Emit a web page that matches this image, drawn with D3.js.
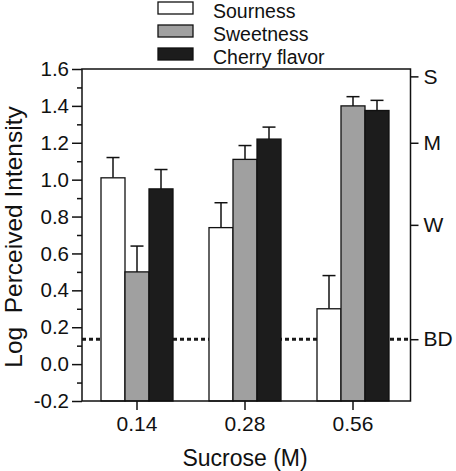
<!DOCTYPE html>
<html>
<head>
<meta charset="utf-8">
<script src="https://cdn.jsdelivr.net/npm/d3@7"></script>
<style>
  html, body { margin: 0; padding: 0; background: #fff; }
  svg { display: block; font-family: Arial, "Liberation Sans", Helvetica, sans-serif; }
</style>
</head>
<body>
<svg id="chart" width="456" height="471"></svg>
<script>
// ---- data ----
const categories = ["0.14", "0.28", "0.56"];
const seriesNames = ["Sourness", "Sweetness", "Cherry flavor"];
const sourness = [1.01, 0.74, 0.30];
const sweetness = [0.50, 1.11, 1.40];
const cherry = [0.95, 1.22, 1.375];
const sournessErr = [0.11, 0.135, 0.18];
const sweetnessErr = [0.14, 0.075, 0.05];
const cherryErr = [0.105, 0.065, 0.055];
const yTicks = [-0.2, 0.0, 0.2, 0.4, 0.6, 0.8, 1.0, 1.2, 1.4, 1.6];
const yMinorTicks = [-0.1, 0.1, 0.3, 0.5, 0.7, 0.9, 1.1, 1.3, 1.5];
const rightLabels = ["S", "M", "W", "BD"];
const rightValues = [1.56, 1.2, 0.755, 0.135];
const bdLevel = 0.135;
const colors = ["#ffffff", "#a0a0a0", "#1c1c1c"];

const values = [sourness, sweetness, cherry];
const errs = [sournessErr, sweetnessErr, cherryErr];

const svg = d3.select("#chart");
const pLeft = 82, pRight = 410.5, pTop = 69, pBottom = 401;

const y = d3.scaleLinear().domain([-0.2, 1.6]).range([pBottom, pTop]);
const x = d3.scaleBand().domain(categories).range([83, 407]).paddingInner(0).paddingOuter(0);
const xs = d3.scaleBand().domain(d3.range(3)).range([-36, 36]);

// dashed BD line (behind bars)
svg.append("line")
  .attr("x1", pLeft).attr("x2", pRight)
  .attr("y1", y(bdLevel)).attr("y2", y(bdLevel))
  .attr("stroke", "#1a1a1a").attr("stroke-width", 3)
  .attr("stroke-dasharray", "4,3");

// bars + error bars
const data = [];
categories.forEach((c, ci) => {
  values.forEach((s, si) => {
    data.push({cat: c, si, v: s[ci], e: errs[si][ci]});
  });
});

const g = svg.append("g");
data.forEach(d => {
  const cx = x(d.cat) + x.bandwidth() / 2;
  const bx = cx + xs(d.si);
  const bw = xs.bandwidth();
  const mid = bx + bw / 2;
  g.append("line")
    .attr("x1", mid).attr("x2", mid)
    .attr("y1", y(d.v)).attr("y2", y(d.v + d.e))
    .attr("stroke", "#111").attr("stroke-width", 1.5);
  g.append("line")
    .attr("x1", mid - 6.5).attr("x2", mid + 6.5)
    .attr("y1", y(d.v + d.e)).attr("y2", y(d.v + d.e))
    .attr("stroke", "#111").attr("stroke-width", 1.5);
  g.append("rect")
    .attr("x", bx).attr("y", y(d.v))
    .attr("width", bw).attr("height", y(-0.2) - y(d.v))
    .attr("fill", colors[d.si])
    .attr("stroke", "#111").attr("stroke-width", 1.3);
});

// frame
svg.append("rect")
  .attr("x", pLeft).attr("y", pTop)
  .attr("width", pRight - pLeft).attr("height", pBottom - pTop)
  .attr("fill", "none").attr("stroke", "#111").attr("stroke-width", 1.5);

// left axis
const yAxis = d3.axisLeft(y).tickValues(yTicks).tickSize(10).tickPadding(3)
  .tickFormat(d => d3.format(".1f")(d).replace("−", "-"));
const ya = svg.append("g").attr("transform", `translate(${pLeft},0)`).call(yAxis);
ya.select(".domain").remove();
ya.selectAll("line").attr("stroke", "#111").attr("stroke-width", 1.5);
ya.selectAll("text").attr("font-size", 20.5).attr("fill", "#111").attr("font-family", "Arial, Liberation Sans, sans-serif");

const yMinor = d3.axisLeft(y).tickValues(yMinorTicks).tickSize(5).tickFormat("");
const ym = svg.append("g").attr("transform", `translate(${pLeft},0)`).call(yMinor);
ym.select(".domain").remove();
ym.selectAll("line").attr("stroke", "#111").attr("stroke-width", 1.5);

// right axis
const yRight = d3.scaleLinear().domain(y.domain()).range(y.range());
const rAxis = d3.axisRight(yRight).tickValues(rightValues).tickSize(8).tickPadding(5)
  .tickFormat((d, i) => rightLabels[i]);
const ra = svg.append("g").attr("transform", `translate(${pRight},0)`).call(rAxis);
ra.select(".domain").remove();
ra.selectAll("line").attr("stroke", "#111").attr("stroke-width", 1.5);
ra.selectAll("text").attr("font-size", 21).attr("fill", "#111").attr("font-family", "Arial, Liberation Sans, sans-serif");

// bottom axis
const xAxis = d3.axisBottom(x).tickSize(9).tickPadding(6);
const xa = svg.append("g").attr("transform", `translate(0,${pBottom})`).call(xAxis);
xa.select(".domain").remove();
xa.selectAll("line").attr("stroke", "#111").attr("stroke-width", 1.5);
xa.selectAll("text").attr("font-size", 21).attr("fill", "#111").attr("font-family", "Arial, Liberation Sans, sans-serif");

// axis titles
svg.append("text")
  .attr("x", 245).attr("y", 466)
  .attr("text-anchor", "middle")
  .attr("font-size", 23).attr("fill", "#111")
  .text("Sucrose (M)");

svg.append("text")
  .attr("transform", `translate(22,${237}) rotate(-90)`)
  .attr("text-anchor", "middle")
  .attr("font-size", 24.5).attr("fill", "#111")
  .style("white-space", "pre")
  .text("Log  Perceived Intensity");

// legend
const legend = svg.append("g");
seriesNames.forEach((name, i) => {
  const ly = 2 + i * 23;
  legend.append("rect")
    .attr("x", 158).attr("y", ly)
    .attr("width", 35).attr("height", 12)
    .attr("fill", colors[i]).attr("stroke", "#111").attr("stroke-width", 1.3);
  legend.append("text")
    .attr("x", 213).attr("y", ly + 15.7)
    .attr("font-size", 19.5).attr("fill", "#111")
    .text(name);
});
</script>
</body>
</html>
